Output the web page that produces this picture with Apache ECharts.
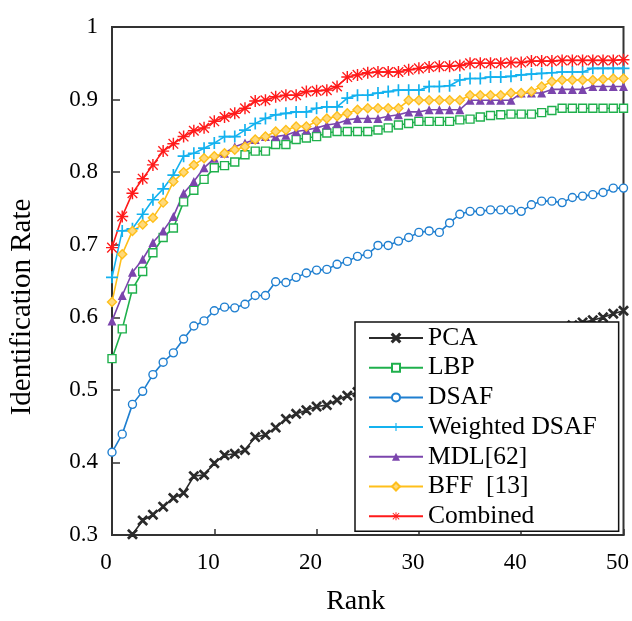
<!DOCTYPE html>
<html>
<head>
<meta charset="utf-8">
<script src="https://cdn.jsdelivr.net/npm/echarts@6/dist/echarts.min.js"></script>
<style>
  html, body { margin: 0; padding: 0; background: #fff; }
  #chart { width: 632px; height: 621px; }
</style>
</head>
<body>
<div id="chart"></div>
<script>
// Identification rate against rank for each method (ranks 0..50)
const ranks = [0, 1, 2, 3, 4, 5, 6, 7, 8, 9, 10, 11, 12, 13, 14, 15, 16, 17, 18, 19, 20,
  21, 22, 23, 24, 25, 26, 27, 28, 29, 30, 31, 32, 33, 34, 35, 36, 37, 38, 39, 40,
  41, 42, 43, 44, 45, 46, 47, 48, 49, 50];

const pca = [null, null, .301, .320, .328, .339, .351, .358, .381, .383,
  .399, .410, .412, .417, .435, .438, .448, .460, .467, .472,
  .477, .479, .486, .492, .497, .503, .507, .513, .518, .522,
  .528, .532, .537, .542, .546, .551, .554, .559, .563, .566,
  .571, .574, .578, .583, .586, .589, .593, .596, .600, .605, .609];

const lbp = [.543, .584, .639, .663, .689, .710, .723, .759, .775, .790,
  .806, .809, .814, .824, .829, .829, .838, .838, .845, .847,
  .849, .854, .856, .856, .856, .856, .858, .861, .865, .867,
  .870, .870, .870, .870, .872, .873, .876, .878, .879, .880,
  .880, .880, .882, .885, .888, .888, .888, .888, .888, .888, .888];

const dsaf = [.414, .439, .480, .498, .521, .538, .551, .570, .588, .595,
  .609, .614, .613, .618, .630, .630, .649, .648, .655, .661,
  .665, .666, .673, .677, .684, .687, .699, .699, .705, .710,
  .717, .719, .717, .730, .742, .746, .746, .748, .748, .748,
  .746, .755, .760, .760, .758, .765, .767, .769, .772, .778, .778];

const weightedDsaf = [.655, .719, .722, .742, .762, .777, .796, .822, .826, .833,
  .840, .849, .849, .858, .867, .874, .879, .881, .883, .883,
  .888, .890, .890, .902, .906, .906, .909, .911, .913, .913,
  .913, .918, .918, .919, .927, .929, .929, .931, .931, .932,
  .934, .935, .936, .937, .938, .938, .938, .943, .943, .943, .943];

const mdl = [.595, .630, .662, .680, .703, .719, .739, .771, .787, .806,
  .819, .826, .835, .840, .845, .849, .849, .851, .856, .858,
  .861, .865, .867, .872, .874, .874, .874, .877, .879, .883,
  .883, .886, .886, .886, .886, .899, .899, .899, .899, .899,
  .909, .909, .909, .914, .914, .914, .914, .918, .918, .918, .918];

const bff = [.621, .687, .719, .728, .737, .758, .787, .800, .810, .819,
  .822, .826, .831, .835, .845, .849, .856, .858, .863, .863,
  .870, .874, .877, .881, .886, .888, .888, .888, .888, .899,
  .899, .899, .899, .899, .899, .906, .906, .906, .906, .909,
  .909, .911, .918, .925, .927, .927, .927, .927, .928, .929, .929];

const combined = [.696, .739, .771, .791, .810, .829, .839, .849, .857, .861,
  .870, .876, .881, .888, .898, .899, .904, .906, .906, .911,
  .912, .913, .918, .931, .934, .937, .938, .938, .938, .941,
  .943, .945, .946, .946, .947, .950, .950, .950, .950, .951,
  .951, .953, .953, .953, .954, .954, .954, .954, .954, .954, .955];

const seriesNames = ['PCA', 'LBP', 'DSAF', 'Weighted DSAF', 'MDL[62]', 'BFF  [13]', 'Combined'];
const xTicks = [0, 10, 20, 30, 40, 50];
const yTicks = [0.3, 0.4, 0.5, 0.6, 0.7, 0.8, 0.9, 1];

const SERIF = "'Liberation Serif', 'Times New Roman', serif";

// marker shapes
const crossX = 'path://M0,1L1,0L5,4L9,0L10,1L6,5L10,9L9,10L5,6L1,10L0,9L4,5Z';
const plus = 'path://M4.3,0H5.7V4.3H10V5.7H5.7V10H4.3V5.7H0V4.3H4.3Z';
const asterisk = 'path://M4.4,0H5.6V3.6L8.6,0.6L9.4,1.4L6.4,4.4H10V5.6H6.4L9.4,8.6L8.6,9.4L5.6,6.4V10H4.4V6.4L1.4,9.4L0.6,8.6L3.6,5.6H0V4.4H3.6L0.6,1.4L1.4,0.6L4.4,3.6Z';

const styles = [
  { color: '#2b2b2b', symbol: crossX, size: 9, fill: '#555' },
  { color: '#1fb04c', symbol: 'rect', size: 8, fill: '#fff' },
  { color: '#1f7fd0', symbol: 'circle', size: 8, fill: '#fff' },
  { color: '#14b2ef', symbol: plus, size: 12, fill: '#14b2ef' },
  { color: '#7b45ad', symbol: 'triangle', size: 9, fill: '#7b45ad' },
  { color: '#ffbf1a', symbol: 'diamond', size: 9, fill: '#ffd97a' },
  { color: '#ff1a1a', symbol: asterisk, size: 12, fill: '#ff1a1a' }
];

const values = [pca, lbp, dsaf, weightedDsaf, mdl, bff, combined];

const series = values.map((arr, i) => {
  const st = styles[i];
  const hollow = st.fill !== st.color;
  return {
    name: seriesNames[i],
    type: 'line',
    data: ranks.map((r, k) => [r, arr[k]]),
    symbol: st.symbol,
    symbolSize: st.size,
    showAllSymbol: true,
    connectNulls: false,
    clip: true,
    lineStyle: { color: st.color, width: 1.6 },
    itemStyle: {
      color: st.fill,
      borderColor: st.color,
      borderWidth: hollow ? 1.4 : 0
    },
    emphasis: { disabled: true },
    animation: false
  };
});

const chart = echarts.init(document.getElementById('chart'), null, { renderer: 'canvas' });

chart.setOption({
  backgroundColor: '#fff',
  animation: false,
  grid: {
    left: 111, right: 8, top: 27, bottom: 84,
    show: true, borderColor: '#333', borderWidth: 2, backgroundColor: 'transparent'
  },
  legend: {
    orient: 'vertical',
    left: 355,
    top: 322,
    backgroundColor: '#fff',
    borderColor: '#111',
    borderWidth: 1.5,
    borderRadius: 0,
    padding: [3, 22, 2, 13],
    itemGap: 3.7,
    itemWidth: 54,
    itemHeight: 10,
    data: seriesNames,
    textStyle: { fontFamily: SERIF, fontSize: 25.5, color: '#000' },
    selectedMode: false
  },
  xAxis: {
    type: 'value',
    min: xTicks[0],
    max: xTicks[xTicks.length - 1],
    interval: 10,
    name: 'Rank',
    nameLocation: 'middle',
    nameGap: 53,
    nameTextStyle: { fontFamily: SERIF, fontSize: 28, color: '#000', padding: [0, 24, 0, 0] },
    axisLine: { show: true, onZero: false, lineStyle: { color: '#333', width: 2 } },
    axisTick: { show: true, inside: true, length: 6, lineStyle: { color: '#333', width: 1.5 } },
    axisLabel: { fontFamily: SERIF, fontSize: 23, color: '#000', margin: 16, padding: [0, 12, 0, 0] },
    splitLine: { show: false }
  },
  yAxis: {
    type: 'value',
    min: yTicks[0],
    max: yTicks[yTicks.length - 1],
    interval: 0.1,
    name: 'Identification Rate',
    nameLocation: 'middle',
    nameRotate: 90,
    nameGap: 75,
    nameTextStyle: { fontFamily: SERIF, fontSize: 29, color: '#000', padding: [0, 52, 0, 0] },
    axisLine: { show: true, onZero: false, lineStyle: { color: '#333', width: 2 } },
    axisTick: { show: true, inside: true, length: 8, lineStyle: { color: '#333', width: 1.5 } },
    axisLabel: {
      fontFamily: SERIF, fontSize: 23, color: '#000', margin: 14,
      formatter: v => (Math.abs(v - 1) < 1e-6 ? '1' : v.toFixed(1))
    },
    splitLine: { show: false }
  },
  series: series
});
</script>
</body>
</html>
